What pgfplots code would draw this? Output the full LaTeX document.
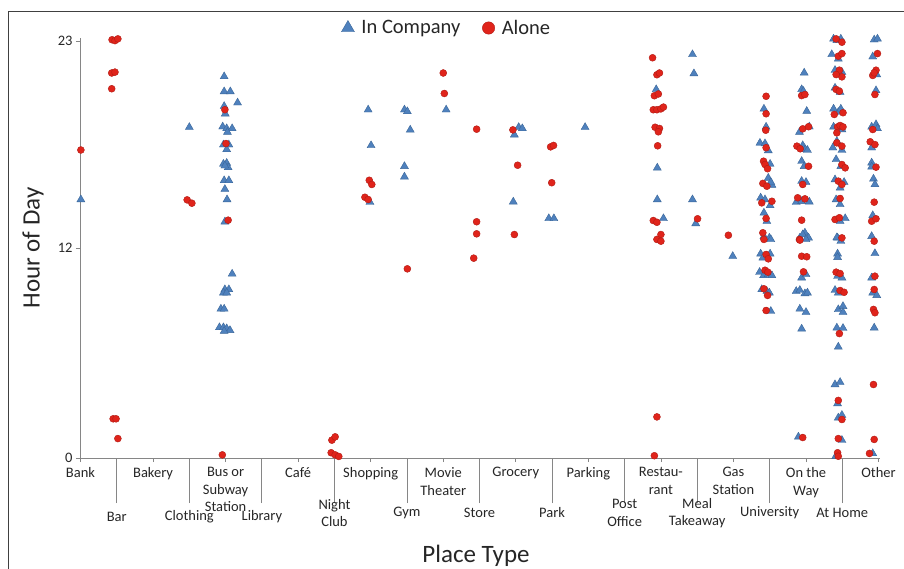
\documentclass[border=0pt]{standalone}
\usepackage{pgfplots}
\pgfplotsset{compat=1.18}
\usepackage{fontspec}
\setmainfont{Carlito}
\definecolor{cblue}{HTML}{4F81BD}
\definecolor{cblueE}{HTML}{3A6699}
\definecolor{cred}{HTML}{E0241B}
\definecolor{credE}{HTML}{B01C15}
\definecolor{axgray}{HTML}{868686}
\definecolor{txt}{HTML}{262626}
\begin{document}
\begin{tikzpicture}
\begin{axis}[
 at={(0pt,0pt)}, anchor=south west,
 scale only axis, width=800pt, height=420pt,
 xmin=-0.014, xmax=22.04, ymin=0, ymax=24,
 axis lines=left, axis line style={-, axgray, line width=0.8pt},
 clip=false,
 ytick={0,12,23.83}, yticklabels={0,12,23},
 xtick={0,2,...,22},
 xticklabels={Bank,Bakery,{Bus or\\Subway\\Station},Café,Shopping,{Movie\\Theater},Grocery,Parking,{Restau-\\rant},{Gas\\Station},{On the\\Way},Other},
 extra x ticks={1,3,...,21},
 extra x tick labels={{\mbox{}\\Bar},{\mbox{}\\Clothing},{\mbox{}\\Library},{Night\\Club},Gym,Store,Park,{Post\\Office},{Meal\\Takeaway},University,At Home},
 extra x tick style={major tick length=45pt, xticklabel style={anchor=center, yshift=-8pt}},
 tick align=outside, major tick length=4pt,
 tick style={axgray, line width=0.8pt},
 tick label style={font=\fontsize{14.5}{17.5}\selectfont, text=txt},
 xticklabel style={align=center, anchor=north, yshift=-2pt},
 xlabel={Place Type},
 xlabel style={at={(axis description cs:0.495,-0.232)}, anchor=center, font=\fontsize{25}{30}\selectfont, text=txt},
 ylabel={Hour of Day},
 ylabel style={at={(axis description cs:-0.05875,0.5)}, anchor=center, font=\fontsize{25}{30}\selectfont, text=txt},
 legend style={at={(0.4585,1.0238)}, anchor=center, draw=none, fill=none, legend columns=2,
   font=\fontsize{20.5}{24}\selectfont, text=txt,
   /tikz/every odd column/.append style={column sep=5pt},
   /tikz/every even column/.append style={column sep=20pt}},
 legend cell align=left,
]
\addplot[only marks, mark=triangle*, mark size=4.6pt, mark options={fill=cblue, draw=cblueE, line width=0.4pt}, legend image post style={mark size=7.5pt}] coordinates {
(0.01,14.77)
(3.00,18.9)
(3.96,21.8)(3.96,20.94)(4.13,20.94)(4.33,20.3)(3.96,20.1)(3.99,19.67)(3.92,18.93)(4.03,18.83)(4.18,18.83)(4.05,18.62)(3.94,17.9)(4.09,17.9)(4.03,17.63)(3.94,16.8)(4.03,16.85)(4.07,16.6)(3.98,16.7)(3.96,15.86)(4.09,15.86)(3.98,15.36)(4.04,14.77)(3.98,13.5)(4.18,10.52)(3.98,9.63)(4.09,9.63)(3.94,9.44)(4.03,9.44)(3.87,8.52)(3.96,8.52)(3.83,7.46)(3.94,7.46)(4.03,7.4)(4.12,7.3)(3.96,7.25)
(7.93,19.9)(8.01,17.86)(7.98,14.62)
(8.93,19.9)(9.01,19.8)(9.09,18.75)(8.93,16.67)(8.93,16.07)
(10.08,19.9)
(12.08,18.9)(12.18,18.83)(11.96,18.47)(11.93,14.64)
(12.91,13.69)(13.05,13.69)
(13.91,18.9)
(15.87,21.06)(15.90,16.58)(15.90,14.77)(16.07,13.69)
(16.87,23.06)(16.91,21.97)(16.87,14.77)(16.96,13.4)
(17.98,11.53)
(18.84,19.95)(18.90,18.92)(18.73,18.0)(18.87,17.97)(18.96,17.57)(19.01,16.8)(18.96,16.0)(19.06,15.6)(19.03,15.76)(18.75,14.87)(18.87,14.77)(19.01,14.43)(18.84,14.01)(18.92,13.53)(18.84,12.67)(18.99,12.58)(19.03,12.49)(18.75,11.67)(19.01,11.67)(18.81,11.44)(18.72,10.62)(18.83,10.43)(18.96,10.49)(19.06,10.43)(18.78,9.63)(18.92,9.53)(18.99,9.44)(19.03,8.39)
(19.95,22.01)(19.88,21.06)(19.93,20.96)(20.02,19.82)(19.82,18.62)(20.09,18.93)(19.91,17.86)(19.98,17.63)(20.04,17.59)(19.88,16.96)(19.95,16.67)(19.88,15.82)(20.00,15.76)(19.73,14.62)(19.88,14.67)(20.09,14.64)(19.83,12.58)(19.97,12.87)(20.07,12.58)(19.91,12.77)(20.00,12.49)(19.88,10.3)(20.00,10.49)(19.73,9.53)(19.83,9.59)(19.97,9.4)(20.04,9.44)(19.83,8.52)(20.00,8.33)(19.88,7.38)(19.79,1.21)
(20.76,23.95)(20.85,23.87)(20.96,23.95)(20.71,23.06)(20.89,22.81)(20.80,22.16)(20.99,22.05)(20.80,21.15)(20.94,20.9)(20.76,19.95)(20.89,19.76)(20.96,19.95)(20.76,18.92)(20.99,18.77)(20.74,17.73)(20.85,18.1)(20.99,17.59)(20.83,17.06)(20.96,16.67)(20.80,15.91)(21.05,15.76)(20.94,15.44)(20.83,14.77)(20.94,14.49)(20.94,13.53)(21.08,13.69)(20.87,12.58)(20.85,12.6)(20.96,12.39)(20.87,11.67)(20.87,11.47)(20.87,10.39)(20.99,10.3)(20.80,9.59)(20.89,9.44)(20.89,8.49)(21.02,8.67)(21.02,8.33)(20.85,7.44)(21.02,7.42)(20.89,6.35)(20.80,4.2)(20.94,4.33)(20.87,3.11)(20.89,2.3)(20.99,2.45)(20.99,1.02)(20.82,0.1)
(21.88,23.9)(21.97,23.95)(21.84,22.93)(21.95,21.91)(21.93,21.0)(21.81,18.92)(21.93,19.06)(21.97,18.83)(21.81,17.73)(21.81,16.87)(21.81,16.64)(21.86,15.95)(21.90,15.63)(21.84,13.86)(21.81,12.67)(21.90,11.69)(21.81,10.3)(21.84,9.44)(21.95,9.3)(21.88,7.44)(21.84,0.26)
};
\addlegendentry{In Company}
\addplot[only marks, mark=*, mark size=3.5pt, mark options={fill=cred, draw=credE, line width=0.4pt}, legend image post style={mark size=6.2pt}] coordinates {
(0.01,17.6)
(0.87,23.9)(0.95,23.85)(1.03,23.95)(0.86,22.0)(0.95,22.05)(0.86,21.1)(0.90,2.24)(0.98,2.24)(1.03,1.11)
(2.94,14.75)(3.07,14.56)
(3.98,19.9)(4.01,17.97)(4.07,13.59)(3.91,0.18)
(6.91,0.3)(6.93,1.02)(7.02,1.21)(7.02,0.18)(7.12,0.09)
(7.96,15.87)(8.03,15.63)(7.84,14.9)(7.93,14.77)
(9.01,10.81)
(10.00,22.0)(10.03,20.83)
(10.92,18.79)(10.92,13.5)(10.92,12.81)(10.84,11.42)
(11.92,18.75)(12.05,16.73)(11.96,12.77)
(12.96,17.78)(13.04,17.86)(12.99,15.73)
(15.77,22.87)(15.89,21.9)(15.96,22.0)(15.82,20.7)(15.93,20.8)(15.79,19.9)(15.89,19.9)(16.00,19.95)(16.07,20.05)(15.84,18.9)(15.96,18.83)(15.93,18.64)(15.91,17.84)(15.79,13.57)(15.89,13.47)(16.00,12.77)(15.89,12.49)(16.00,12.39)(15.89,2.35)(15.82,0.13)
(17.01,13.67)
(17.86,12.73)
(18.90,20.67)(18.90,19.67)(18.89,18.73)(18.90,17.73)(18.83,16.96)(18.87,16.77)(18.94,16.53)(18.81,15.69)(18.92,15.53)(18.78,14.58)(19.06,14.67)(18.90,13.69)(18.81,12.87)(18.84,12.49)(18.90,11.63)(18.96,11.38)(18.87,10.73)(18.95,10.62)(18.84,9.67)(18.94,9.29)(18.90,8.43)
(19.88,20.71)(19.97,20.77)(19.91,18.81)(20.07,18.93)(19.75,17.82)(19.84,17.67)(20.07,16.67)(19.91,15.63)(19.77,14.87)(19.97,14.81)(19.88,13.59)(19.82,12.49)(19.83,12.45)(19.88,11.53)(20.02,11.5)(19.93,10.64)(19.91,1.17)
(20.83,23.95)(20.99,23.76)(20.89,22.96)(20.99,23.11)(20.92,22.16)(20.99,21.78)(20.83,21.91)(20.83,21.06)(20.92,20.96)(20.78,19.63)(21.02,19.73)(20.87,18.92)(20.94,19.0)(21.02,18.92)(20.85,18.58)(20.85,18.01)(20.99,17.82)(20.99,16.77)(21.08,16.58)(20.89,15.82)(20.99,15.63)(20.94,14.83)(20.80,13.63)(20.92,13.73)(20.99,12.58)(20.83,10.62)(20.94,10.54)(20.94,9.57)(21.05,9.47)(20.92,7.11)(20.89,3.29)(20.99,2.2)(20.89,1.11)(20.87,0.3)(20.89,0.1)
(21.97,23.11)(21.84,21.86)(21.93,22.16)(21.88,22.01)(21.90,20.77)(21.84,18.77)(21.77,18.07)(21.90,17.91)(21.93,16.62)(21.88,14.62)(21.81,13.53)(21.93,13.67)(21.88,12.39)(21.90,10.39)(21.88,9.63)(21.86,8.49)(21.90,8.3)(21.86,4.2)(21.88,1.06)(21.75,0.26)
};
\addlegendentry{Alone}
\end{axis}
\draw[line width=0.8pt, black!75] (-71.5pt,-120pt) -- (-71.5pt,447pt) -- (835pt,447pt);
\pgfresetboundingbox
\useasboundingbox (-80pt,-110pt) rectangle (824pt,458pt);
\end{tikzpicture}
\end{document}
